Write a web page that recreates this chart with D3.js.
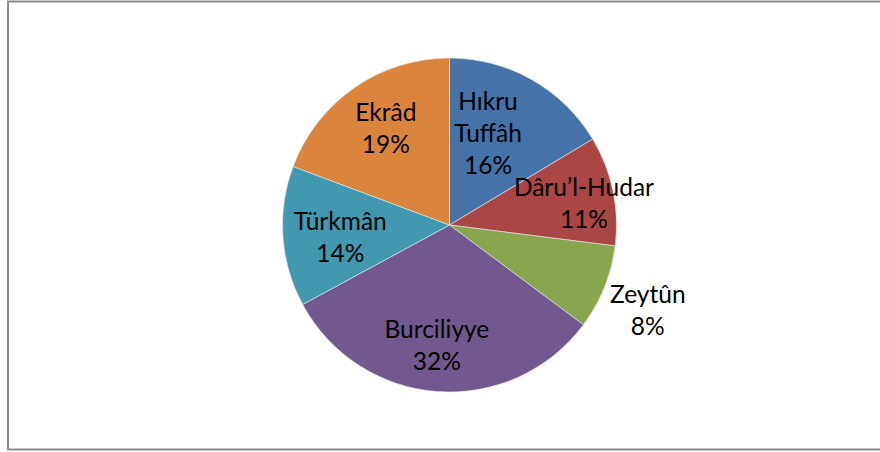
<!DOCTYPE html>
<html>
<head>
<meta charset="utf-8">
<style>
  html, body { margin: 0; padding: 0; background: #fff; }
  svg { display: block; }
</style>
</head>
<body>
<svg width="880" height="452"></svg>
<script src="https://cdn.jsdelivr.net/npm/d3@7/dist/d3.min.js"></script>
<script>

// data (share of each quarter, percent)
var categories = ["Hıkru Tuffâh", "Dâru’l-Hudar", "Zeytûn", "Burciliyye", "Türkmân", "Ekrâd"],
    values = [16.4, 10.6, 8.2, 31.9, 13.6, 19.3],
    labelLines = [["Hıkru", "Tuffâh"], ["Dâru’l-Hudar"], ["Zeytûn"], ["Burciliyye"], ["Türkmân"], ["Ekrâd"]];

var colors = ["#4572A7", "#AA4643", "#89A54E", "#71588F", "#4198AF", "#DB843D"];

// label placement (Excel "best fit"): distance from centre and angle nudge in degrees
var labelRadius = [99, 136, 216, 122, 110, 115],
    labelNudge = [-6.6, 3.2, 1.4, 1.8, -2.8, 1.1];

var svg = d3.select("svg"),
    width = +svg.attr("width"),
    height = +svg.attr("height"),
    cx = 449.5, cy = 225, radius = 167, lineH = 32;

svg.append("rect")
    .attr("x", 8).attr("y", 1.5)
    .attr("width", width + 10).attr("height", 448)
    .attr("fill", "#fff")
    .attr("stroke", "#8c8c8c")
    .attr("stroke-width", 2);

var data = categories.map(function(c, i) { return {name: c, value: values[i], lines: labelLines[i]}; });

var pie = d3.pie().sort(null).value(function(d) { return d.value; });
var arcs = pie(data);
var total = d3.sum(values);
var fmt = d3.format(".0%");

var arc = d3.arc().innerRadius(0).outerRadius(radius);

var g = svg.append("g").attr("transform", "translate(" + cx + "," + cy + ")");

g.selectAll("path")
  .data(arcs)
  .enter().append("path")
    .attr("d", arc)
    .attr("fill", function(d) { return colors[d.index]; })
    .attr("stroke", "#e8e8e8")
    .attr("stroke-width", 0.6);

var labels = g.selectAll(".label")
  .data(arcs)
  .enter().append("text")
    .attr("class", "label")
    .attr("text-anchor", "middle")
    .attr("font-family", "Lato, 'Open Sans', sans-serif")
    .attr("font-size", 24.5)
    .attr("fill", "#000")
    .attr("transform", function(d) {
      var a = (d.startAngle + d.endAngle) / 2 + labelNudge[d.index] * Math.PI / 180,
          r = labelRadius[d.index],
          x = Math.sin(a) * r,
          y = -Math.cos(a) * r,
          n = d.data.lines.length + 1;
      return "translate(" + x + "," + (y - (n - 1) * lineH / 2 + 8) + ")";
    });

labels.each(function(d) {
  var t = d3.select(this),
      rows = d.data.lines.concat([fmt(d.data.value / total)]);
  rows.forEach(function(s, k) {
    t.append("tspan").attr("x", 0).attr("y", k * lineH).text(s);
  });
});

</script>
</body>
</html>
